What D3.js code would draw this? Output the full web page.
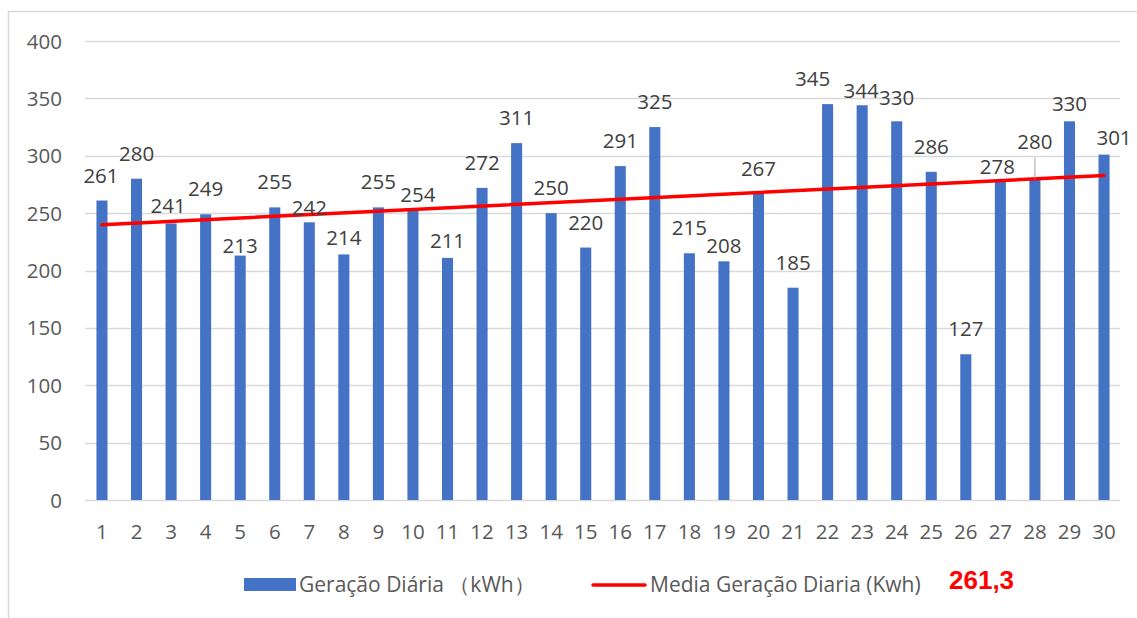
<!DOCTYPE html>
<html>
<head>
<meta charset="utf-8">
<script src="https://cdn.jsdelivr.net/npm/d3@7"></script>
<style>
  body { margin: 0; background: #fff; }
  svg { display: block; font-family: "Open Sans", "Noto Sans", sans-serif; }
</style>
</head>
<body>
<script>
// Data
let days = d3.range(1, 31);
let generation = [261, 280, 241, 249, 213, 255, 242, 214, 255, 254,
  211, 272, 311, 250, 220, 291, 325, 215, 208, 267,
  185, 345, 344, 330, 286, 127, 278, 280, 330, 301];
let trendEnds = [239.8, 282.8];
let yTicks = [0, 50, 100, 150, 200, 250, 300, 350, 400];
let barName = "Geração Diária （kWh）";
let lineName = "Media Geração Diaria (Kwh)";
let averageText = "261,3";

// label nudges [dx, dy] for the labels that were moved by hand
let labelNudge = {
  1: [-1, 0], 3: [-3, 8], 5: [0, 15], 7: [0, 11], 8: [0, 9],
  10: [5, 11], 11: [0, 8], 19: [0, 10], 22: [-15, 0], 23: [-1, 11],
  24: [0, 2], 27: [-3, 11], 28: [0, -12], 29: [0, 8], 30: [10, 8]
};

let width = 1137;
let height = 618;

let svg = d3.select("body")
  .append("svg")
  .attr("width", width)
  .attr("height", height);

// chart border
svg.append("rect")
  .attr("x", 8.5)
  .attr("y", 11.5)
  .attr("width", 1140)
  .attr("height", 620)
  .attr("fill", "none")
  .attr("stroke", "#d9d9d9")
  .attr("stroke-width", 1.5);

let xScale = d3.scaleBand()
  .domain(days)
  .range([84.7, 1121.3])
  .paddingInner(0.68)
  .paddingOuter(0.34);

let yScale = d3.scaleLinear().domain([0, 400]).range([500, 41]);

let xCenter = (d) => xScale(d) + xScale.bandwidth() / 2;

// gridlines
svg.append("g")
  .selectAll("line")
  .data(yTicks)
  .enter()
  .append("line")
  .attr("x1", 85)
  .attr("x2", 1120)
  .attr("y1", (d) => Math.round(yScale(d)) + 0.5)
  .attr("y2", (d) => Math.round(yScale(d)) + 0.5)
  .attr("stroke", "#d9d9d9")
  .attr("stroke-width", 1.3);

// y axis labels
svg.append("g")
  .selectAll("text")
  .data(yTicks)
  .enter()
  .append("text")
  .attr("x", 62)
  .attr("y", (d) => yScale(d) + 7.5)
  .attr("text-anchor", "end")
  .style("font-size", "20.5px")
  .style("fill", "#595959")
  .text((d) => d);

// x axis labels
svg.append("g")
  .selectAll("text")
  .data(days)
  .enter()
  .append("text")
  .attr("x", (d) => xCenter(d))
  .attr("y", 539)
  .attr("text-anchor", "middle")
  .style("font-size", "20.5px")
  .style("fill", "#595959")
  .text((d) => d);

// bars
svg.append("g")
  .selectAll("rect")
  .data(generation)
  .enter()
  .append("rect")
  .attr("x", (d, i) => xScale(days[i]))
  .attr("y", (d) => yScale(d))
  .attr("width", xScale.bandwidth())
  .attr("height", (d) => yScale(0) - yScale(d))
  .attr("fill", "#4472c4");

// trend line
svg.append("line")
  .attr("x1", xCenter(days[0]))
  .attr("x2", xCenter(days[days.length - 1]))
  .attr("y1", yScale(trendEnds[0]))
  .attr("y2", yScale(trendEnds[1]))
  .attr("stroke", "#ff0000")
  .attr("stroke-width", 3.5)
  .attr("stroke-linecap", "round");

// leader line for the moved label of day 28
svg.append("line")
  .attr("x1", xCenter(28))
  .attr("x2", xCenter(28))
  .attr("y1", yScale(280) - 21)
  .attr("y2", yScale(280))
  .attr("stroke", "#a6a6a6")
  .attr("stroke-width", 1);

// data labels
svg.append("g")
  .selectAll("text")
  .data(generation)
  .enter()
  .append("text")
  .attr("x", (d, i) => xCenter(days[i]) + (labelNudge[days[i]] || [0, 0])[0])
  .attr("y", (d, i) => yScale(d) - 18 + (labelNudge[days[i]] || [0, 0])[1])
  .attr("text-anchor", "middle")
  .style("font-size", "20.5px")
  .style("fill", "#404040")
  .text((d) => d);

// legend
let legend = svg.append("g");

legend.append("rect")
  .attr("x", 244)
  .attr("y", 578)
  .attr("width", 52)
  .attr("height", 13)
  .attr("fill", "#4472c4");

legend.append("text")
  .attr("x", 299)
  .attr("y", 592)
  .style("font-size", "21px")
  .style("fill", "#595959")
  .text(barName);

legend.append("line")
  .attr("x1", 593)
  .attr("x2", 645)
  .attr("y1", 585)
  .attr("y2", 585)
  .attr("stroke", "#ff0000")
  .attr("stroke-width", 3.5)
  .attr("stroke-linecap", "round");

legend.append("text")
  .attr("x", 650)
  .attr("y", 592)
  .style("font-size", "21px")
  .style("fill", "#595959")
  .text(lineName);

legend.append("text")
  .attr("x", 949)
  .attr("y", 589)
  .style("font-family", "'Liberation Sans', Arial, sans-serif")
  .style("font-weight", "bold")
  .style("font-size", "26px")
  .style("fill", "#ff0000")
  .text(averageText);
</script>
</body>
</html>
